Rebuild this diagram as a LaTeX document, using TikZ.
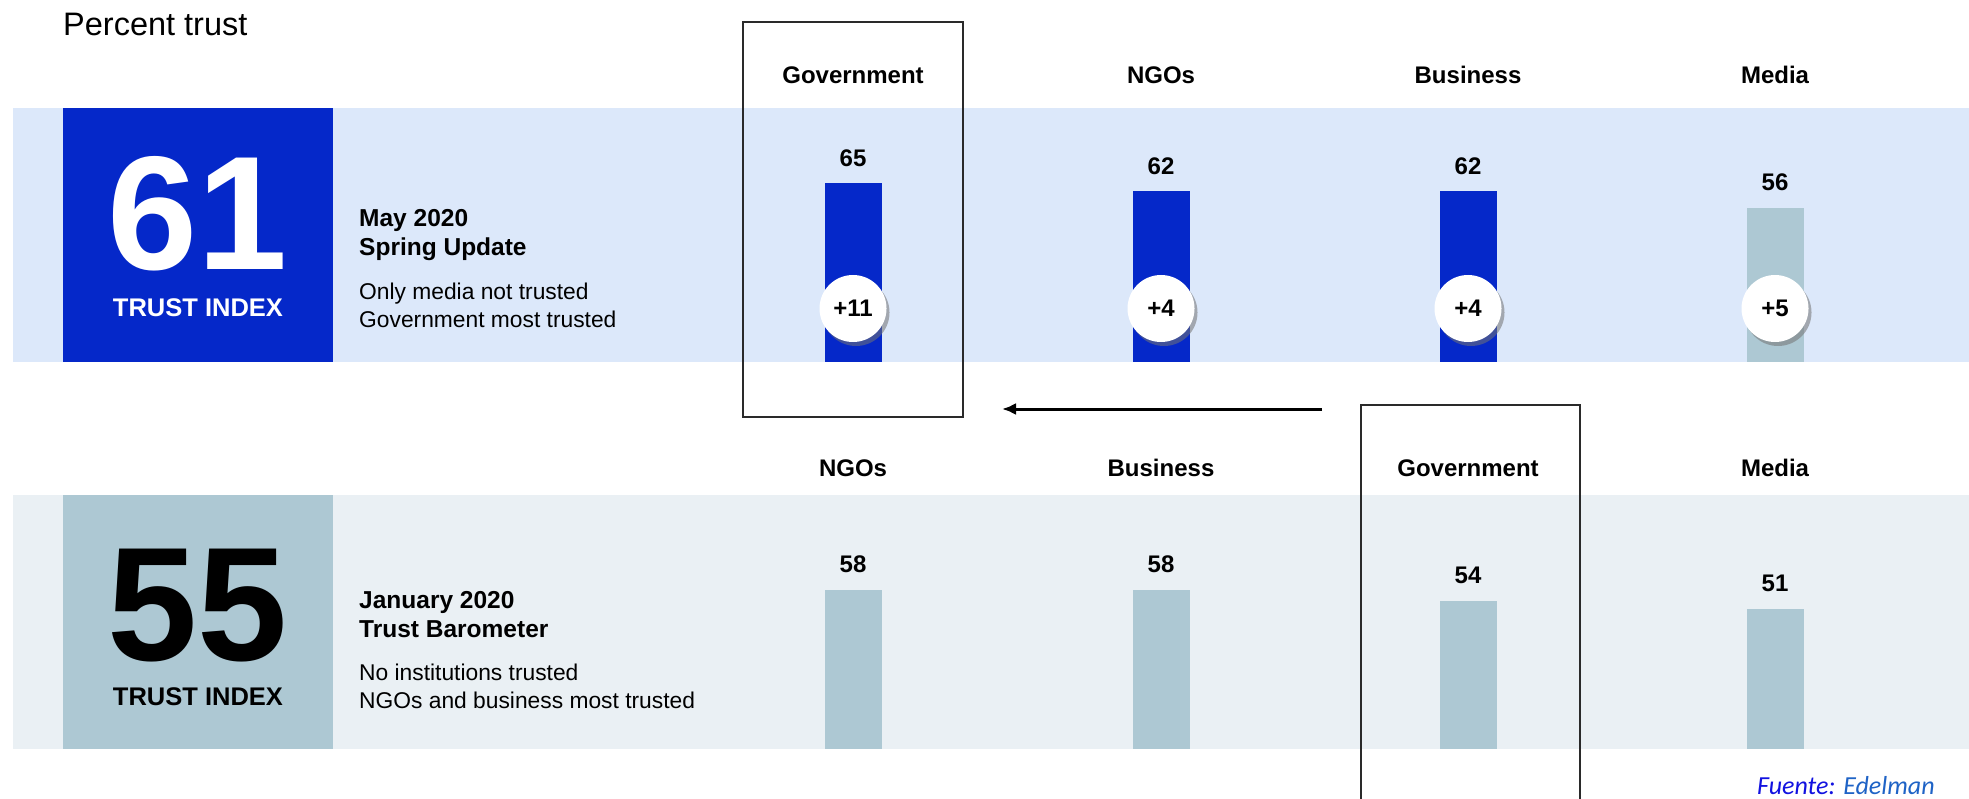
\documentclass[tikz,border=0pt]{standalone}
\usepackage{fontspec}
\setmainfont{Liberation Sans}
\newfontfamily\carlito{Carlito}
\usetikzlibrary{arrows.meta,shadows}
\definecolor{trustblue}{HTML}{0528C9}
\definecolor{lightbar}{HTML}{ADC8D3}
\definecolor{bandtop}{HTML}{DCE8FA}
\definecolor{bandbot}{HTML}{EAF0F4}
\definecolor{fuenteA}{HTML}{1212E0}
\definecolor{fuenteB}{HTML}{1F63C6}
\definecolor{framegray}{HTML}{2A2A2A}
\tikzset{
  band/.style={anchor=north west, inner sep=0pt, outer sep=0pt, minimum width=1956pt, minimum height=254pt},
  idxbox/.style={anchor=north west, inner sep=0pt, outer sep=0pt, minimum width=270pt, minimum height=254pt},
  bar/.style={anchor=south, inner sep=0pt, outer sep=0pt, minimum width=57pt},
  hdr/.style={font=\fontsize{24}{28}\selectfont\bfseries, anchor=base, inner sep=0pt},
  val/.style={font=\fontsize{24}{28}\selectfont\bfseries, anchor=base, inner sep=0pt},
  bignum/.style={font=\fontsize{162}{162}\selectfont\bfseries, anchor=base, inner sep=0pt},
  idxlabel/.style={font=\fontsize{25.5}{30}\selectfont\bfseries, anchor=base, inner sep=0pt},
  boldline/.style={font=\fontsize{24.5}{29}\selectfont\bfseries, anchor=base west, inner sep=0pt},
  plainline/.style={font=\fontsize{22.8}{27}\selectfont, anchor=base west, inner sep=0pt},
  circ/.style={circle, fill=white, minimum size=67pt, inner sep=0pt,
    font=\fontsize{24}{28}\selectfont\bfseries,
    drop shadow={shadow xshift=3pt, shadow yshift=-4pt, fill=black!55, opacity=0.55}},
  frame/.style={draw=framegray, line width=2pt, inner sep=0pt, outer sep=0pt, anchor=north west, fill=none},
  arr/.style={line width=3pt, -{Latex[length=14pt,width=12pt]}}
}
\begin{document}
\begin{tikzpicture}[x=1pt,y=-1pt]
\useasboundingbox (0,0) rectangle (1969,799);
\fill[white] (0,0) rectangle (1969,799);

% title
\node[font=\fontsize{32.5}{38}\selectfont, anchor=base west, inner sep=0pt] (title) at (63,36) {Percent trust};

% bands
\node[band, fill=bandtop] (bandT) at (13,108) {};
\node[band, fill=bandbot] (bandB) at (13,495) {};

% index boxes
\node[idxbox, fill=trustblue] (boxT) at (63,108) {};
\node[idxbox, fill=lightbar] (boxB) at (63,495) {};
\node[bignum, text=white] (numT) at (198,270) {61};
\node[idxlabel, text=white] (idxT) at (198,317) {TRUST INDEX};
\node[bignum, text=black] (numB) at (198,660) {55};
\node[idxlabel, text=black] (idxB) at (198,705) {TRUST INDEX};

% descriptions
\node[boldline] (dT1) at (359,227) {May 2020};
\node[boldline] (dT2) at (359,256) {Spring Update};
\node[plainline] (dT3) at (359,300) {Only media not trusted};
\node[plainline] (dT4) at (359,327) {Government most trusted};
\node[boldline] (dB1) at (359,608) {January 2020};
\node[boldline] (dB2) at (359,637) {Trust Barometer};
\node[plainline] (dB3) at (359,680) {No institutions trusted};
\node[plainline] (dB4) at (359,708) {NGOs and business most trusted};

% top row: May 2020
\foreach \nm/\lab/\xc/\v/\col/\d in {
  gov/Government/853/65/trustblue/+11,
  ngo/NGOs/1161/62/trustblue/+4,
  bus/Business/1468/62/trustblue/+4,
  med/Media/1775/56/lightbar/+5}{
  \node[hdr] (hT\nm) at (\xc,83.5) {\lab};
  \node[bar, fill=\col, minimum height={\v*2.75pt}] (bT\nm) at (\xc,362) {};
  \node[val] (vT\nm) at (\xc,{362-2.75*\v-17}) {\v};
  \node[circ] (cT\nm) at (\xc,308.5) {\d};
}

% bottom row: January 2020
\foreach \nm/\lab/\xc/\v in {
  ngo/NGOs/853/58,
  bus/Business/1161/58,
  gov/Government/1468/54,
  med/Media/1775/51}{
  \node[hdr] (hB\nm) at (\xc,476) {\lab};
  \node[bar, fill=lightbar, minimum height={\v*2.75pt}] (bB\nm) at (\xc,749) {};
  \node[val] (vB\nm) at (\xc,{749-2.75*\v-17}) {\v};
}

% highlight frames
\node[frame, minimum width=220pt, minimum height=395pt] (govTop) at (743,22) {};
\node[frame, minimum width=219pt, minimum height=402pt] (govBot) at (1361,405) {};

% arrow
\coordinate (arrS) at (1322,409);
\coordinate (arrE) at (1002,409);
\draw[arr] (arrS) -- (arrE);

% source
\node[anchor=base west, inner sep=0pt, font=\carlito\itshape\fontsize{26}{30}\selectfont] (src) at (1757,794)
  {\textcolor{fuenteA}{Fuente:} \textcolor{fuenteB}{Edelman}};
\end{tikzpicture}
\end{document}
